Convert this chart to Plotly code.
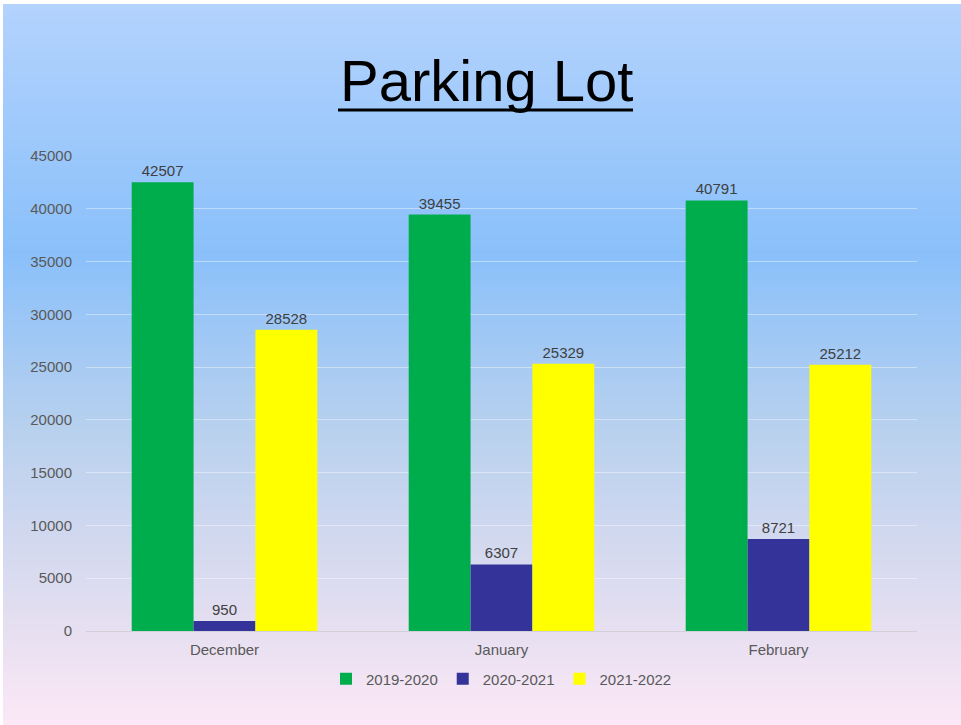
import plotly.graph_objects as go

categories = ["December", "January", "February"]
series_names = ["2019-2020", "2020-2021", "2021-2022"]
v_2019_2020 = [42507, 39455, 40791]
v_2020_2021 = [950, 6307, 8721]
v_2021_2022 = [28528, 25329, 25212]
colors = ["#00ad4c", "#333399", "#ffff00"]
y_ticks = [0, 5000, 10000, 15000, 20000, 25000, 30000, 35000, 40000, 45000]

W, H = 961, 725
L, R, T, B = 86, 44, 156, 94
PW, PH = W - L - R, H - T - B
FONT = "Liberation Sans, Arial"

def px_x(x):
    return (x - L) / PW

def px_y(y):
    return (H - B - y) / PH

fig = go.Figure()
for name, vals, c in zip(series_names, [v_2019_2020, v_2020_2021, v_2021_2022], colors):
    fig.add_trace(go.Bar(
        x=categories, y=vals, name=name, marker=dict(color=c, line=dict(width=0)),
        text=[str(v) for v in vals], textposition="outside", cliponaxis=False,
        textfont=dict(family=FONT, size=15, color="#404040"),
    ))

# gradient background via stripes
stops = [(0.0, (180, 211, 253)), (0.35, (138, 192, 250)), (0.6, (185, 209, 238)),
         (0.85, (227, 222, 240)), (1.0, (252, 232, 246))]

def col_at(f):
    for (f0, c0), (f1, c1) in zip(stops[:-1], stops[1:]):
        if f0 <= f <= f1:
            t = (f - f0) / (f1 - f0) if f1 > f0 else 0
            return tuple(round(a + (b - a) * t) for a, b in zip(c0, c1))
    return stops[-1][1]

shapes = []
n = 145
for i in range(n):
    y0p = i * H / n
    y1p = (i + 1) * H / n + 1
    c = col_at((y0p + y1p) / 2 / H)
    shapes.append(dict(type="rect", xref="paper", yref="paper", layer="below",
                       x0=px_x(0), x1=px_x(W),
                       y0=px_y(y1p), y1=px_y(y0p),
                       fillcolor="rgb(%d,%d,%d)" % c, line=dict(width=0)))
# thin white frame edges (top / left)
shapes.append(dict(type="rect", xref="paper", yref="paper", layer="below",
                   x0=px_x(0), x1=px_x(W), y0=px_y(4), y1=px_y(0),
                   fillcolor="#ffffff", line=dict(width=0)))
shapes.append(dict(type="rect", xref="paper", yref="paper", layer="below",
                   x0=px_x(0), x1=px_x(3), y0=px_y(H), y1=px_y(0),
                   fillcolor="#ffffff", line=dict(width=0)))
# title underline
shapes.append(dict(type="line", xref="paper", yref="paper", layer="above",
                   x0=px_x(338), x1=px_x(633), y0=px_y(110), y1=px_y(110),
                   line=dict(color="#000000", width=3)))

fig.update_layout(
    width=W, height=H,
    margin=dict(l=L, r=R, t=T, b=B),
    paper_bgcolor="#fbe8f6", plot_bgcolor="rgba(0,0,0,0)",
    shapes=shapes,
    barmode="group", bargap=0.33, bargroupgap=0,
    font=dict(family=FONT, size=15, color="#595959"),
    showlegend=True,
    legend=dict(orientation="h", x=0.5, xanchor="center", y=px_y(679), yanchor="middle",
                font=dict(size=15, color="#595959"), itemwidth=30,
                bgcolor="rgba(0,0,0,0)"),
    annotations=[dict(text="Parking Lot", xref="paper", yref="paper",
                      x=px_x(486), y=px_y(80), xanchor="center", yanchor="middle",
                      showarrow=False, font=dict(family=FONT, size=58, color="#000000"))],
)
fig.update_xaxes(showgrid=False, showline=False, ticks="", ticklabelstandoff=8,
                 tickfont=dict(size=15, color="#595959"))
fig.update_yaxes(range=[0, 45000], tickvals=y_ticks, tickformat="d", showgrid=True,
                 gridcolor="rgba(255,255,255,0.4)", gridwidth=1,
                 zeroline=True, zerolinecolor="rgba(205,205,215,0.9)", zerolinewidth=1,
                 ticks="", ticklabelstandoff=13, tickfont=dict(size=15, color="#595959"))

fig.write_html("out.html", config={"displayModeBar": False},
               post_script="document.body.style.margin='0';document.body.style.overflow='hidden';")
